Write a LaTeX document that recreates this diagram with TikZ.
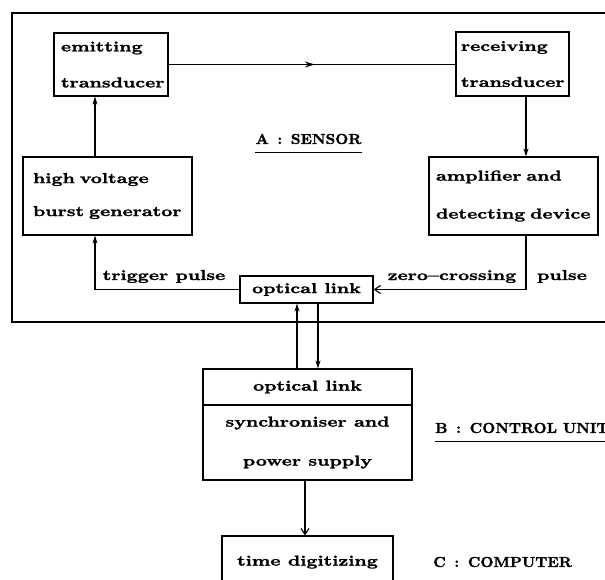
\documentclass[tikz,border=0pt]{standalone}
\usepackage{fontspec}
\usetikzlibrary{arrows.meta,decorations.markings}
\newfontfamily\widefont{lmroman10-bold}[Extension=.otf, FakeStretch=1.34, FakeBold=1.6]
\newfontfamily\capfont{lmroman10-bold}[Extension=.otf, FakeStretch=1.05, FakeBold=1.6]
\newcommand\gap{\hspace{0.6em}}
\begin{document}
\begin{tikzpicture}[x=1pt,y=-1pt,
  blk/.style={draw, line width=1.2pt, inner ysep=0pt},
  lfont/.style={font={\widefont\fontsize{14.4}{#1}\selectfont}},
  lbl/.style={inner sep=0pt, font={\widefont\fontsize{14.4}{17}\selectfont}},
  clbl/.style={inner sep=0pt, font={\capfont\fontsize{14.4}{17}\selectfont}},
  conn/.style={line width=1.1pt},
  arr/.style={conn, -{Stealth[length=8pt,width=5pt]}},
  barb/.style={conn, -{Straight Barb[length=6pt,width=8pt]}}]
\clip (0,0) rectangle (605,579);
% outer frame of the sensor
\draw[line width=1.1pt] (620,13) -- (12,13) -- (12,322) -- (620,322);
% blocks
\node[blk, lfont=36, align=left, text width=100pt, inner xsep=7pt, minimum height=63pt] (emit) at (111,64.5) {emitting\\transducer};
\node[blk, lfont=36, align=left, text width=103pt, inner xsep=5pt, minimum height=64pt] (recv) at (512.5,64) {receiving\\transducer};
\node[blk, lfont=33, align=left, text width=149pt, inner xsep=10pt, minimum height=78pt] (hv) at (107.5,196) {high voltage\\burst generator};
\node[blk, lfont=38, align=left, text width=155pt, inner xsep=7pt, minimum height=78pt] (amp) at (513.5,196) {amplifier and\\detecting device};
\node[blk, lfont=17, minimum width=133pt, minimum height=27pt] (opt1) at (306.5,289.5) {optical link};
\node[blk, lfont=17, minimum width=209pt, minimum height=36pt] (ctrlA) at (307.5,387) {optical link};
\node[blk, lfont=39, align=center, minimum width=209pt, minimum height=75pt] (ctrlB) at (307.5,442.5) {synchroniser and\\power supply};
\node[blk, lfont=17, minimum width=171pt, minimum height=52pt] (time) at (307.5,562) {time digitizing};
% labels
\node[clbl] (sens) at (308.5,139) {A\gap:\gap SENSOR};
\draw[line width=1.1pt] ([yshift=-8pt]sens.south west) -- ([yshift=-8pt]sens.south east);
\node[clbl, anchor=west] (unitB) at (435,428) {B\gap:\gap CONTROL UNIT};
\draw[line width=1.1pt] ([yshift=-8pt]unitB.south west) -- ([yshift=-8pt]unitB.south east);
\node[clbl, anchor=west] (unitC) at (433,562) {C\gap:\gap COMPUTER};
\node[lbl, anchor=base] (trig) at (164,280) {trigger pulse};
\node[lbl, anchor=base] (zero) at (452,280) {zero\textendash crossing};
\node[lbl, anchor=base] (puls) at (562,280) {pulse};
% helper x positions
\coordinate (xa) at (95,0);
\coordinate (xb) at (526,0);
\coordinate (xc) at (297,0);
\coordinate (xd) at (318,0);
\coordinate (xe) at (305,0);
% connectors
\draw[conn, postaction={decorate}, decoration={markings, mark=at position 0.51 with {\arrow{Stealth[length=10pt,width=6pt]}}}] (emit.east) -- (emit.east -| recv.west);
\draw[arr] (hv.north -| xa) -- (emit.south -| xa);
\draw[arr] (recv.south -| xb) -- (amp.north -| xb);
\draw[arr] (opt1.west) -| (hv.south -| xa);
\draw[barb] (amp.south -| xb) |- (opt1.east);
\draw[arr] (ctrlA.north -| xc) -- (opt1.south -| xc);
\draw[arr] (opt1.south -| xd) -- (ctrlA.north -| xd);
\draw[barb] (ctrlB.south -| xe) -- (time.north -| xe);
\end{tikzpicture}
\end{document}
